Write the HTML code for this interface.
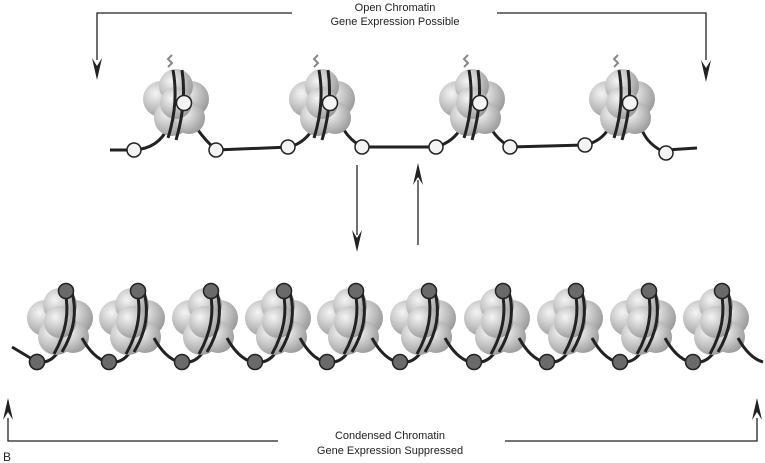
<!DOCTYPE html>
<html><head><meta charset="utf-8"><style>
html,body{margin:0;padding:0;background:#fff;}
svg{display:block;}
text{font-family:"Liberation Sans",sans-serif;font-size:11px;fill:#222;}
</style></head><body>
<svg width="765" height="463" viewBox="0 0 765 463" xmlns="http://www.w3.org/2000/svg">
<defs>
<radialGradient id="g" cx="0.35" cy="0.35" r="0.7">
<stop offset="0" stop-color="#f4f4f4"/><stop offset="0.5" stop-color="#c8c8c8"/><stop offset="1" stop-color="#9a9a9a"/>
</radialGradient>
<g id="blob">
<circle cx="-15" cy="-4" r="18" fill="url(#g)"/>
<circle cx="15" cy="-4" r="18" fill="url(#g)"/>
<circle cx="0" cy="-17" r="17" fill="url(#g)"/>
<circle cx="-4" cy="15" r="18" fill="url(#g)"/>
<circle cx="13" cy="15" r="16" fill="url(#g)"/>
<circle cx="0" cy="0" r="16" fill="url(#g)"/>
</g>
<marker id="ah" viewBox="0 0 10 22" refX="5" refY="21" markerWidth="10" markerHeight="22" orient="auto-start-reverse" markerUnits="userSpaceOnUse">
<path d="M0,0 L5,22 L10,0 L5,8 Z" fill="#222"/></marker>
</defs>

<g stroke="#222" stroke-width="1.3" fill="none">
<path d="M292,13 H97 V60"/><path d="M92,58 L97,80 L102,58 L97,66 Z" fill="#222" stroke="none"/>
<path d="M497,13 H706 V60"/><path d="M701,60 L706,82 L711,60 L706,68 Z" fill="#222" stroke="none"/>
<path d="M357,165 V235"/><path d="M352,230 L357,252 L362,230 L357,238 Z" fill="#222" stroke="none"/>
<path d="M418,245 V180"/><path d="M413,185 L418,163 L423,185 L418,177 Z" fill="#222" stroke="none"/>
<path d="M278,441 H8 V418"/><path d="M3,420 L8,398 L13,420 L8,412 Z" fill="#222" stroke="none"/>
<path d="M505,441 H757 V418"/><path d="M752,420 L757,398 L762,420 L757,412 Z" fill="#222" stroke="none"/>
</g>
<text x="395" y="11" text-anchor="middle">Open Chromatin</text>
<text x="395" y="25" text-anchor="middle">Gene Expression Possible</text>
<text x="390" y="439" text-anchor="middle">Condensed Chromatin</text>
<text x="390" y="454" text-anchor="middle">Gene Expression Suppressed</text>
<text x="3" y="461" style="font-size:12px">B</text>

<path d="M110,150 H134 Q165,148 172,115 M216,150 Q205,140 198,130 M216,150 L290,147 Q312,140 318,115 M362,147 Q350,140 344,130 M362,147 L436,147 Q460,140 466,115 M510,147 Q498,140 492,130 M510,147 L585,145 Q608,140 614,115 M666,153 Q648,145 642,130 M666,150 L697,148" stroke="#222" stroke-width="3" fill="none"/>
<g id="tn1" transform="translate(176,103)">
<use href="#blob"/>
<path d="M-8,-36 l4,-4 -4,-4 4,-4" stroke="#888" stroke-width="2" fill="none"/>
<path d="M-8,35 Q3,0 -3,-33 M0,37 Q11,0 6,-33" stroke="#222" stroke-width="3" fill="none"/>
<circle cx="8" cy="0" r="7.5" fill="#f4f4f4" stroke="#222" stroke-width="1.5"/>
</g>
<use href="#tn1" transform="translate(146,0)"/>
<use href="#tn1" transform="translate(296,0)"/>
<use href="#tn1" transform="translate(446,0)"/>
<g fill="#f4f4f4" stroke="#222" stroke-width="1.5">
<circle cx="134" cy="150" r="7"/><circle cx="216" cy="150" r="7"/>
<circle cx="288" cy="147" r="7"/><circle cx="362" cy="147" r="7"/>
<circle cx="436" cy="147" r="7"/><circle cx="510" cy="147" r="7"/>
<circle cx="585" cy="145" r="7"/><circle cx="666" cy="153" r="7"/>
</g>

<g id="bn" transform="translate(60,322)">
<path d="M-23,40 Q-10,42 -2,30" stroke="#222" stroke-width="3" fill="none"/>
<use href="#blob"/>
<path d="M-6,32 Q12,0 5,-30 M2,30 Q20,0 12,-30" stroke="#222" stroke-width="3" fill="none"/>
<circle cx="6" cy="-31" r="7.5" fill="#6a6a6a" stroke="#222" stroke-width="1.5"/>
<path d="M22,16 Q33,36 47,40" stroke="#222" stroke-width="3" fill="none"/>
<circle cx="-23" cy="40" r="7.5" fill="#6a6a6a" stroke="#222" stroke-width="1.5"/>
</g>
<use href="#bn" transform="translate(72,0)"/>
<use href="#bn" transform="translate(145,0)"/>
<use href="#bn" transform="translate(218,0)"/>
<use href="#bn" transform="translate(290,0)"/>
<use href="#bn" transform="translate(363,0)"/>
<use href="#bn" transform="translate(437,0)"/>
<use href="#bn" transform="translate(510,0)"/>
<use href="#bn" transform="translate(583,0)"/>
<use href="#bn" transform="translate(656,0)"/>
<path d="M12,347 L37,362" stroke="#222" stroke-width="3"/>
<circle cx="37" cy="362" r="7.5" fill="#6a6a6a" stroke="#222" stroke-width="1.5"/>
</svg>
</body></html>
